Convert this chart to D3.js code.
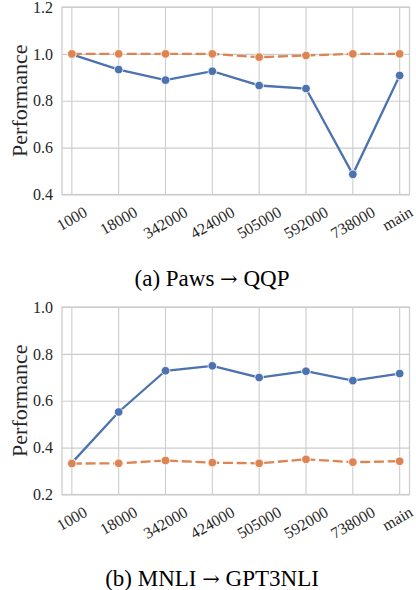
<!DOCTYPE html>
<html lang="en">
<head>
<meta charset="utf-8">
<title>Performance by checkpoint</title>
<script src="https://cdn.jsdelivr.net/npm/d3@7/dist/d3.min.js"></script>
<style>
  body { margin: 0; background: #fff; }
  text { font-family: "Liberation Serif", "DejaVu Serif", serif; fill: #262626; }
</style>
</head>
<body>
<div id="chart"></div>
<script>

const checkpoints = ["1000", "18000", "342000", "424000", "505000", "592000", "738000", "main"];

// (a) Paws -> QQP
const pawsBlue   = [0.998, 0.933, 0.888, 0.926, 0.865, 0.852, 0.486, 0.908];
const pawsOrange = [1.0, 1.0, 1.0, 1.0, 0.986, 0.993, 1.0, 1.0];
const pawsTicks  = [0.4, 0.6, 0.8, 1.0, 1.2];

// (b) MNLI -> GPT3NLI
const mnliBlue   = [0.335, 0.552, 0.728, 0.749, 0.699, 0.726, 0.686, 0.716];
const mnliOrange = [0.332, 0.333, 0.345, 0.336, 0.333, 0.350, 0.338, 0.342];
const mnliTicks  = [0.2, 0.4, 0.6, 0.8, 1.0];

const width = 416, height = 590;
const blue = "#4c72b0", orange = "#dd8452", grid = "#cccccc";

const svg = d3.select("#chart").append("svg")
  .attr("width", width)
  .attr("height", height);

function panel(top, blueVals, orangeVals, ticks, capLeft, capRight) {
  const left = 62, right = 409.5, bottom = top + 187.5;

  const x = d3.scalePoint().domain(checkpoints).range([left, right]).padding(0.21);
  const y = d3.scaleLinear().domain([ticks[0], ticks[ticks.length - 1]]).range([bottom, top]);

  const g = svg.append("g");

  // grid
  g.selectAll(".vgrid").data(checkpoints).join("line")
    .attr("x1", d => x(d)).attr("x2", d => x(d))
    .attr("y1", top).attr("y2", bottom)
    .attr("stroke", grid).attr("stroke-width", 1.1);

  const yAxis = g.append("g")
    .attr("transform", `translate(${left},0)`)
    .call(d3.axisLeft(y).tickValues(ticks).tickFormat(d3.format(".1f"))
      .tickSize(-(right - left)).tickPadding(9));
  yAxis.select(".domain").remove();
  yAxis.selectAll(".tick line").attr("stroke", grid).attr("stroke-width", 1.1);
  yAxis.selectAll(".tick text")
    .attr("font-size", 16)
    .style("font-family", '"Liberation Serif", serif')
    .attr("fill", "#262626");

  // frame
  g.append("rect")
    .attr("x", left).attr("y", top)
    .attr("width", right - left).attr("height", bottom - top)
    .attr("fill", "none").attr("stroke", grid).attr("stroke-width", 1.25);

  // x tick labels, rotated 30deg, bbox centred under the tick
  const fs = 16;
  g.selectAll(".xlab").data(checkpoints).join("text")
    .attr("font-size", fs)
    .attr("text-anchor", "middle")
    .attr("dominant-baseline", "central")
    .text(d => d)
    .each(function(d) {
      const w = this.getComputedTextLength();
      const bh = w * 0.5 + fs * 0.95 * 0.866;
      const bw = w * 0.866 + fs * 0.95 * 0.5;
      const cx = Math.min(x(d), width - bw / 2 - 1);
      const cy = bottom + 9.5 + bh / 2;
      d3.select(this).attr("transform", `translate(${cx},${cy}) rotate(-30)`);
    });

  // y label
  g.append("text")
    .attr("transform", `translate(27,${(top + bottom) / 2}) rotate(-90)`)
    .attr("text-anchor", "middle")
    .attr("font-size", 22)
    .text("Performance");

  const line = d3.line().x((d, i) => x(checkpoints[i])).y(d => y(d));

  const series = [
    { vals: blueVals, color: blue, dash: null },
    { vals: orangeVals, color: orange, dash: "10,3.75" }
  ];

  series.forEach(s => {
    g.append("path")
      .datum(s.vals)
      .attr("d", line)
      .attr("fill", "none")
      .attr("stroke", s.color)
      .attr("stroke-width", 2.3)
      .attr("stroke-dasharray", s.dash);
    g.selectAll(null).data(s.vals).join("circle")
      .attr("cx", (d, i) => x(checkpoints[i]))
      .attr("cy", d => y(d))
      .attr("r", 4.3)
      .attr("fill", s.color)
      .attr("stroke", "#fff")
      .attr("stroke-width", 0.8);
  });

  const cap = svg.append("text")
    .attr("x", 212).attr("y", top + 279)
    .attr("text-anchor", "middle")
    .attr("font-size", 23)
    .style("fill", "#000");
  cap.append("tspan").text(capLeft + " ");
  cap.append("tspan").style("font-family", '"DejaVu Serif", serif').attr("font-size", 21).text("\u2192");
  cap.append("tspan").text(" " + capRight);
}

panel(7, pawsBlue, pawsOrange, pawsTicks, "(a) Paws", "QQP");
panel(307, mnliBlue, mnliOrange, mnliTicks, "(b) MNLI", "GPT3NLI");

</script>
</body>
</html>
